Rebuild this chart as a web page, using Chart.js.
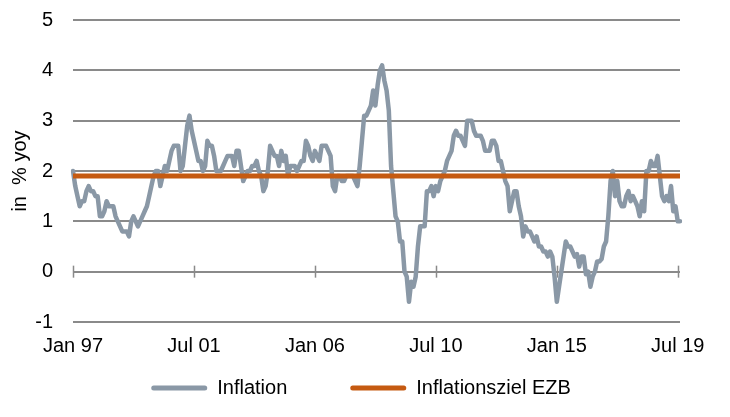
<!DOCTYPE html>
<html>
<head>
<meta charset="utf-8">
<script src="https://cdn.jsdelivr.net/npm/chart.js@4"></script>
<style>
  html, body { margin: 0; padding: 0; background: #ffffff; }
  #wrap { width: 730px; height: 417px; }
</style>
</head>
<body>
<div id="wrap"><canvas id="c" width="730" height="417"></canvas></div>
<script>
// ---- data ----
const monthNames = ['Jan','Feb','Mär','Apr','Mai','Jun','Jul','Aug','Sep','Okt','Nov','Dez'];
const startYear = 1997;
const monthCount = 272; // Jan 1997 .. Aug 2019
const categories = [];
for (let i = 0; i < monthCount; i++) {
  const yy = (startYear + Math.floor(i / 12)) % 100;
  categories.push(monthNames[i % 12] + ' ' + String(yy).padStart(2, '0'));
}
const tickLabels = ['Jan 97', 'Jul 01', 'Jan 06', 'Jul 10', 'Jan 15', 'Jul 19'];

const inflation = [
  2.0, 1.7, 1.5, 1.3, 1.4, 1.4, 1.6, 1.7, 1.6, 1.6, 1.5, 1.5,   // 1997
  1.1, 1.1, 1.2, 1.4, 1.3, 1.3, 1.3, 1.1, 1.0, 0.9, 0.8, 0.8,   // 1998
  0.8, 0.7, 1.0, 1.1, 1.0, 0.9, 1.0, 1.1, 1.2, 1.3, 1.5, 1.7,   // 1999
  1.9, 2.0, 2.0, 1.7, 1.9, 2.1, 2.0, 2.2, 2.4, 2.5, 2.5, 2.5,   // 2000
  2.0, 2.1, 2.5, 2.9, 3.1, 2.8, 2.6, 2.4, 2.2, 2.2, 2.0, 2.1,   // 2001
  2.6, 2.5, 2.5, 2.3, 2.0, 2.0, 2.0, 2.1, 2.2, 2.3, 2.3, 2.3,   // 2002
  2.1, 2.4, 2.4, 2.1, 1.8, 1.9, 2.0, 2.0, 2.1, 2.1, 2.2, 2.0,   // 2003
  1.9, 1.6, 1.7, 2.0, 2.5, 2.4, 2.3, 2.3, 2.1, 2.4, 2.2, 2.3,   // 2004
  1.9, 2.1, 2.1, 2.1, 2.0, 2.1, 2.2, 2.2, 2.6, 2.5, 2.3, 2.2,   // 2005
  2.4, 2.3, 2.2, 2.5, 2.5, 2.5, 2.4, 2.3, 1.7, 1.6, 1.9, 1.9,   // 2006
  1.8, 1.8, 1.9, 1.9, 1.9, 1.9, 1.8, 1.7, 2.1, 2.6, 3.1, 3.1,   // 2007
  3.2, 3.3, 3.6, 3.3, 3.7, 4.0, 4.1, 3.8, 3.6, 3.2, 2.1, 1.6,   // 2008
  1.1, 1.0, 0.6, 0.6, 0.0, -0.1, -0.6, -0.2, -0.3, -0.1, 0.5, 0.9, // 2009
  0.9, 0.9, 1.6, 1.6, 1.7, 1.5, 1.7, 1.6, 1.8, 1.9, 2.0, 2.2,   // 2010
  2.3, 2.4, 2.7, 2.8, 2.7, 2.7, 2.6, 2.5, 3.0, 3.0, 3.0, 2.8,   // 2011
  2.7, 2.7, 2.7, 2.6, 2.4, 2.4, 2.4, 2.6, 2.6, 2.5, 2.2, 2.2,   // 2012
  2.0, 1.8, 1.7, 1.2, 1.4, 1.6, 1.6, 1.3, 1.1, 0.7, 0.9, 0.8,   // 2013
  0.8, 0.7, 0.6, 0.7, 0.5, 0.5, 0.4, 0.4, 0.3, 0.4, 0.3, -0.1,  // 2014
  -0.6, -0.3, 0.0, 0.3, 0.6, 0.5, 0.5, 0.4, 0.3, 0.35, 0.1, 0.3, // 2015
  0.3, -0.05, 0.0, -0.3, -0.1, 0.0, 0.2, 0.2, 0.25, 0.5, 0.6, 1.1, // 2016
  1.8, 2.0, 1.5, 1.8, 1.4, 1.3, 1.3, 1.5, 1.6, 1.4, 1.5, 1.4,   // 2017
  1.3, 1.1, 1.4, 1.2, 2.0, 2.0, 2.2, 2.1, 2.1, 2.3, 1.9, 1.5,   // 2018
  1.4, 1.5, 1.4, 1.7, 1.2, 1.3, 1.0, 1.0                        // 2019
];
const targetRate = [1.9, 1.9]; // ECB target, first and last month

const seriesNames = ['Inflation', 'Inflationsziel EZB'];
const yTicks = [-1, 0, 1, 2, 3, 4, 5];

// ---- styles ----
const FONT = '"Liberation Sans", Arial, Helvetica, sans-serif';
const grayLine = '#8A98A6';
const orangeLine = '#C55A11';
const gridColor = '#8a8a8a';

// short tick marks on the zero line at the labelled categories
const zeroAxisTicks = {
  id: 'zeroAxisTicks',
  beforeDatasetsDraw(chart) {
    const { ctx, scales: { x, y } } = chart;
    const y0 = y.getPixelForValue(0);
    ctx.save();
    ctx.strokeStyle = gridColor;
    ctx.lineWidth = 1.5;
    tickLabels.forEach(lbl => {
      const idx = categories.indexOf(lbl);
      if (idx < 0) return;
      const px = Math.round(x.getPixelForValue(idx)) + 0.5;
      ctx.beginPath();
      ctx.moveTo(px, y0 - 6);
      ctx.lineTo(px, y0 + 6);
      ctx.stroke();
    });
    ctx.restore();
  }
};

// place the legend row just below the x labels
const legendPlacement = {
  id: 'legendPlacement',
  afterLayout(chart) {
    const lg = chart.legend;
    if (!lg) return;
    const pad = lg.options.labels.padding;
    const itemH = lg.options.labels.font.size;
    const centerY = 388;
    lg.top = centerY - pad - itemH / 2;
    lg.bottom = chart.height;
    lg.height = lg.bottom - lg.top;
    lg.left = 42;
    lg.right = chart.chartArea.right;
    lg.width = lg.right - lg.left;
  }
};

new Chart(document.getElementById('c'), {
  type: 'line',
  data: {
    labels: categories,
    datasets: [
      {
        label: seriesNames[0],
        data: inflation,
        borderColor: grayLine,
        backgroundColor: grayLine,
        borderWidth: 4.5,
        pointRadius: 0,
        tension: 0,
        borderJoinStyle: 'round',
        borderCapStyle: 'round',
        order: 1
      },
      {
        label: seriesNames[1],
        data: [
          { x: categories[0], y: targetRate[0] },
          { x: categories[categories.length - 1], y: targetRate[1] }
        ],
        borderColor: orangeLine,
        backgroundColor: orangeLine,
        borderWidth: 5,
        pointRadius: 0,
        tension: 0,
        borderCapStyle: 'butt',
        order: 0
      }
    ]
  },
  options: {
    responsive: false,
    animation: false,
    devicePixelRatio: 1,
    layout: { padding: { left: 0, right: 50, top: 20, bottom: 5 } },
    plugins: {
      tooltip: { enabled: false },
      legend: {
        position: 'bottom',
        align: 'center',
        maxHeight: 30,
        labels: {
          font: { family: FONT, size: 20 },
          color: '#000',
          boxWidth: 56,
          boxHeight: 5,
          useBorderRadius: true,
          borderRadius: 2.5,
          padding: 63,
          sort: (a, b) => a.datasetIndex - b.datasetIndex,
          generateLabels(chart) {
            const items = Chart.defaults.plugins.legend.labels.generateLabels(chart);
            items.forEach(it => { it.lineWidth = 0; it.fillStyle = it.strokeStyle; });
            return items;
          }
        }
      }
    },
    scales: {
      x: {
        type: 'category',
        offset: false,
        grid: { display: false, drawTicks: false },
        border: { display: false },
        ticks: {
          autoSkip: false,
          maxRotation: 0,
          minRotation: 0,
          padding: 12,
          color: '#000',
          font: { family: FONT, size: 20 },
          callback(value, index) {
            const lbl = categories[index];
            return tickLabels.includes(lbl) ? lbl : null;
          }
        },
        afterFit(scale) { scale.height = 60; }
      },
      y: {
        min: yTicks[0],
        max: yTicks[yTicks.length - 1],
        afterBuildTicks(scale) { scale.ticks = yTicks.map(v => ({ value: v })); },
        grid: {
          color: gridColor,
          lineWidth: 2,
          drawTicks: true,
          tickLength: 20,
          tickColor: 'rgba(0,0,0,0)'
        },
        border: { display: false },
        ticks: {
          padding: 0,
          color: '#000',
          font: { family: FONT, size: 20 }
        },
        title: {
          display: true,
          text: 'in  % yoy',
          color: '#000',
          font: { family: FONT, size: 20 },
          padding: { top: 8, bottom: 0 }
        },
        afterFit(scale) { scale.width = 73; }
      }
    }
  },
  plugins: [zeroAxisTicks, legendPlacement]
});
</script>
</body>
</html>
